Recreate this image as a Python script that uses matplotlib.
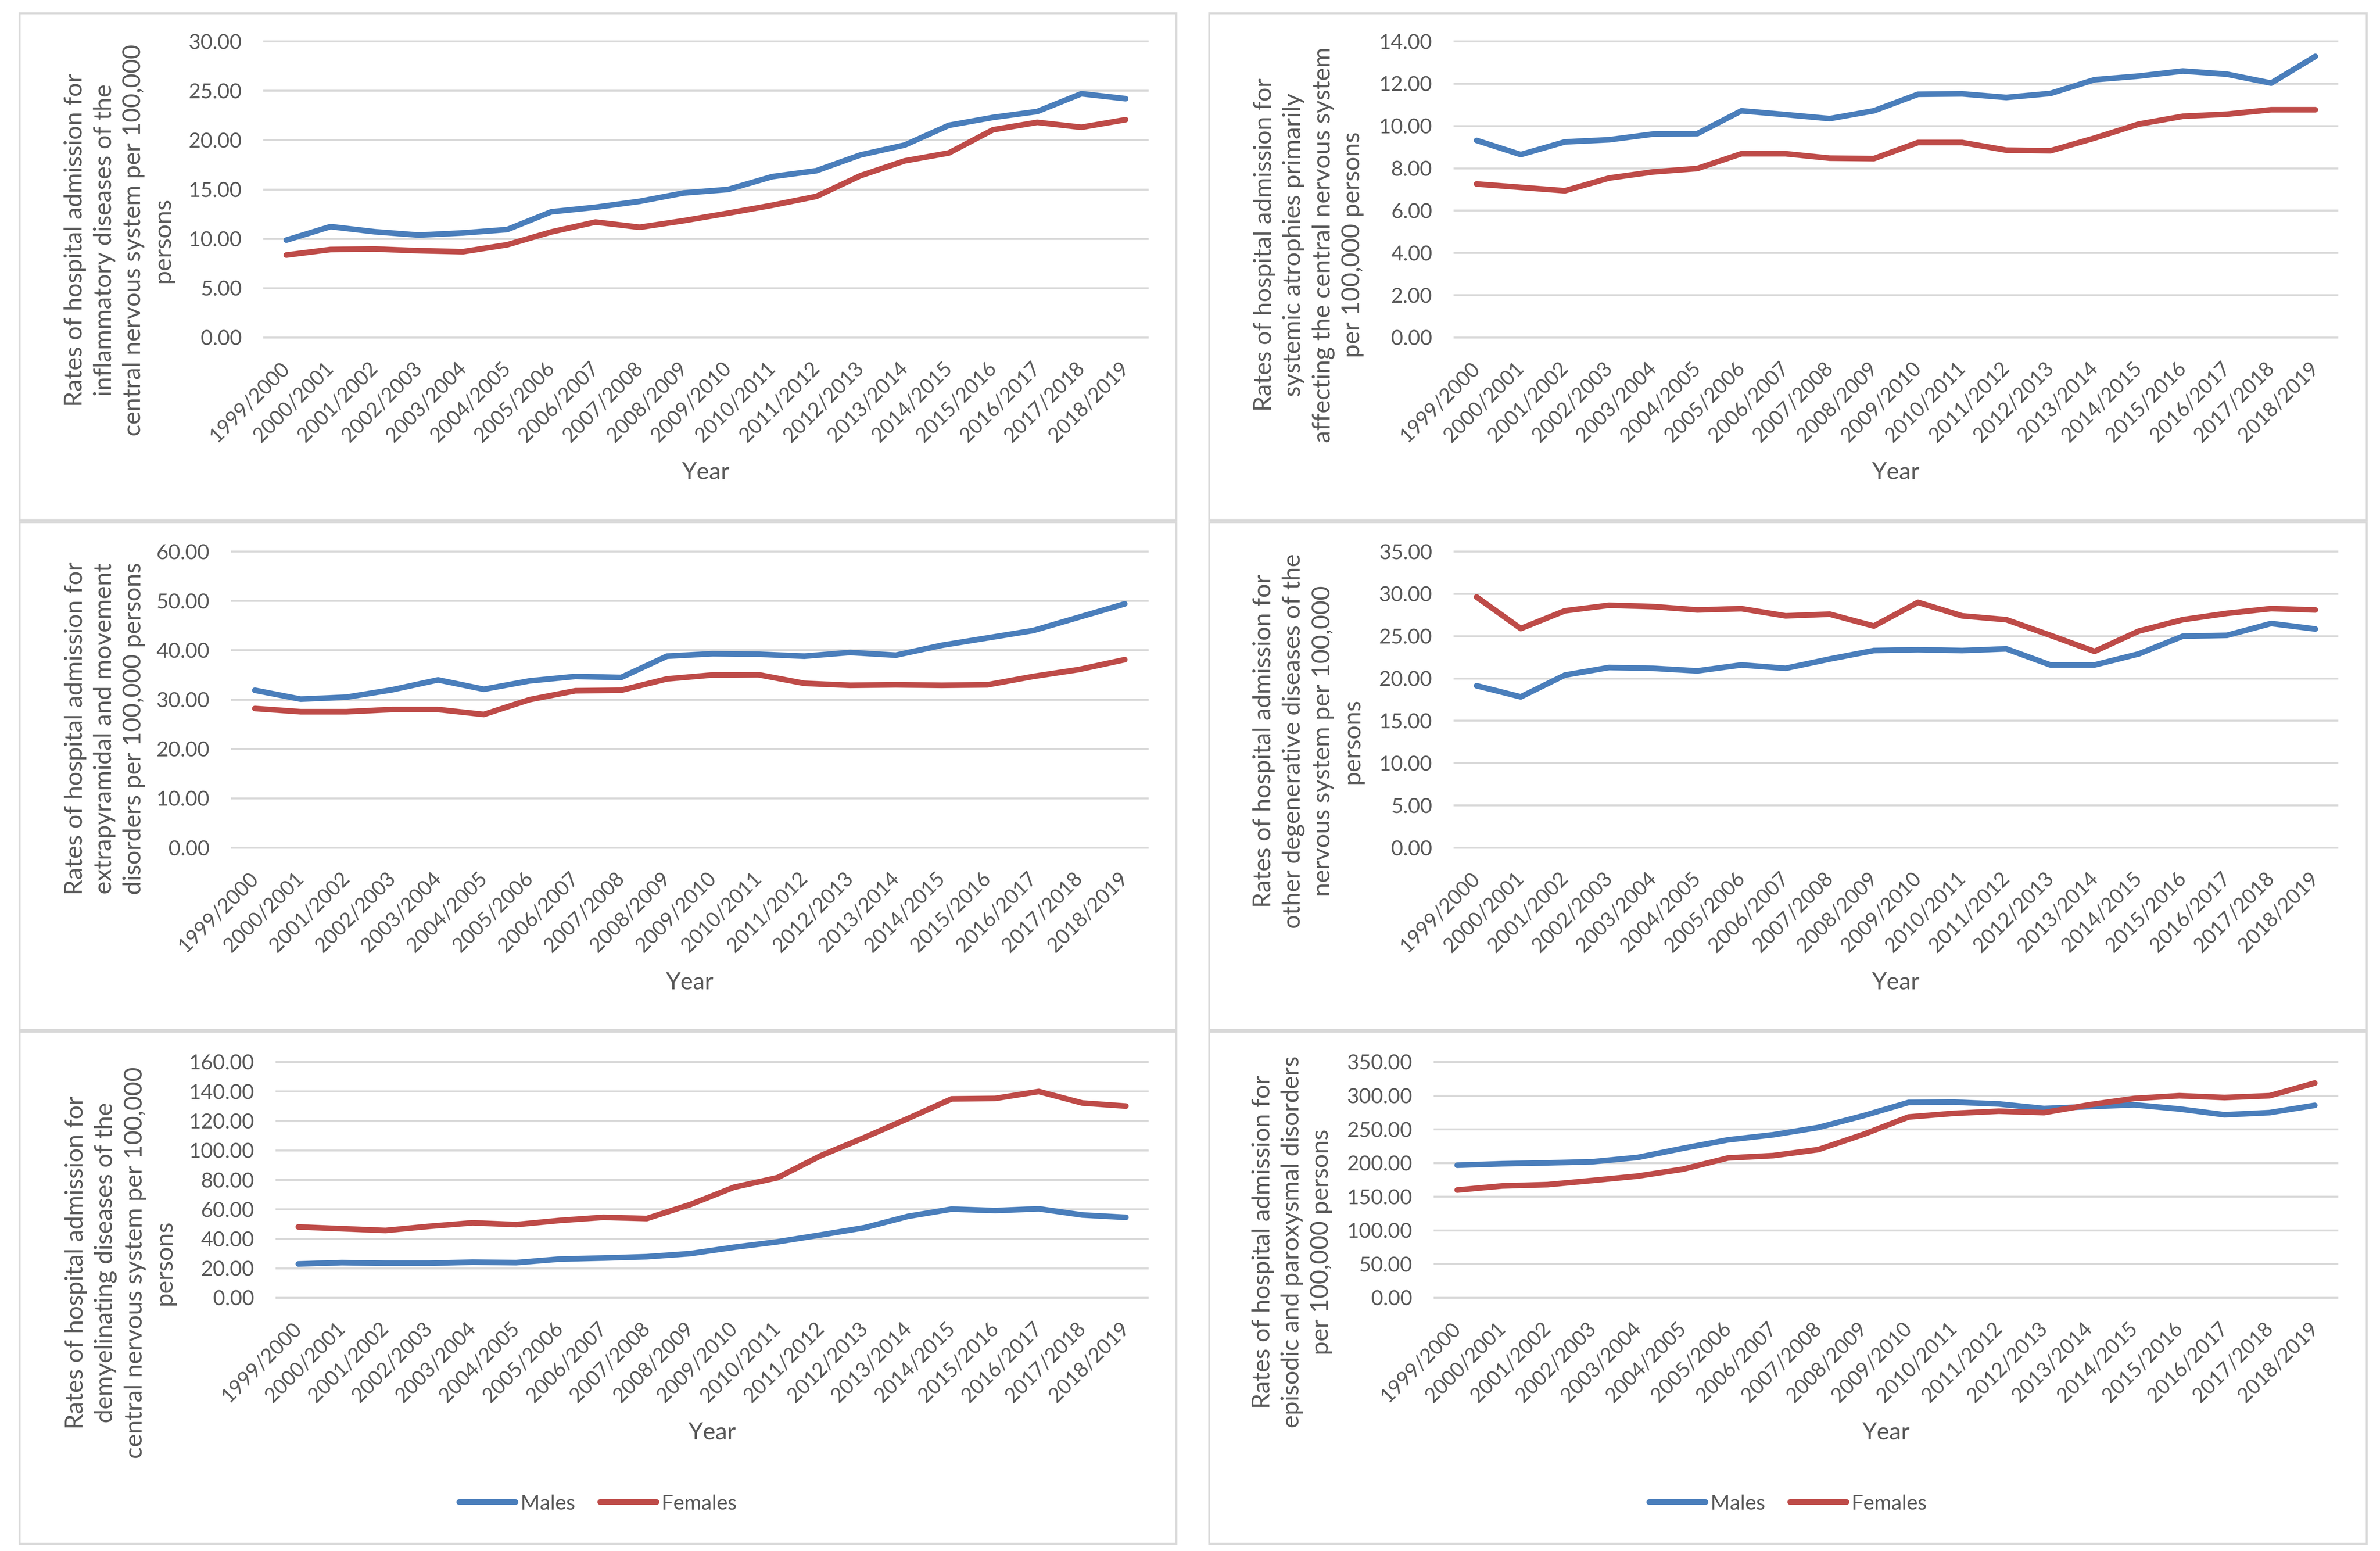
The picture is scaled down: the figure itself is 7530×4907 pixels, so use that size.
import matplotlib
matplotlib.use("Agg")
import matplotlib.pyplot as plt
from matplotlib.patches import Rectangle
from matplotlib.lines import Line2D

# ---- Data (rates per 100,000 persons)
YEARS = ["1999/2000", "2000/2001", "2001/2002", "2002/2003", "2003/2004",
         "2004/2005", "2005/2006", "2006/2007", "2007/2008", "2008/2009",
         "2009/2010", "2010/2011", "2011/2012", "2012/2013", "2013/2014",
         "2014/2015", "2015/2016", "2016/2017", "2017/2018", "2018/2019"]

INFLAM_M = [9.87, 11.24, 10.72, 10.38, 10.6, 10.94, 12.74, 13.2, 13.8, 14.65,
            15.0, 16.3, 16.9, 18.5, 19.5, 21.5, 22.3, 22.9, 24.7, 24.2]
INFLAM_F = [8.36, 8.92, 8.97, 8.8, 8.7, 9.4, 10.7, 11.7, 11.17, 11.84,
            12.6, 13.4, 14.3, 16.4, 17.9, 18.7, 21.05, 21.8, 21.3, 22.07]

ATROPHY_M = [9.32, 8.65, 9.25, 9.35, 9.62, 9.64, 10.72, 10.54, 10.35, 10.72,
             11.5, 11.52, 11.35, 11.54, 12.19, 12.36, 12.6, 12.45, 12.03, 13.29]
ATROPHY_F = [7.26, 7.1, 6.94, 7.54, 7.83, 7.99, 8.69, 8.69, 8.48, 8.46,
             9.22, 9.22, 8.86, 8.83, 9.43, 10.09, 10.46, 10.56, 10.77, 10.77]

EXTRAPYR_M = [31.9, 30.1, 30.5, 32.0, 34.0, 32.1, 33.8, 34.7, 34.5, 38.8,
              39.3, 39.2, 38.8, 39.55, 39.0, 41.0, 42.5, 44.0, 46.7, 49.4]
EXTRAPYR_F = [28.2, 27.55, 27.55, 28.0, 28.0, 27.0, 30.0, 31.8, 31.9, 34.2,
              35.0, 35.05, 33.3, 32.9, 33.0, 32.9, 33.0, 34.7, 36.1, 38.1]

DEGEN_M = [19.14, 17.83, 20.4, 21.3, 21.2, 20.9, 21.6, 21.2, 22.3, 23.3,
           23.4, 23.3, 23.5, 21.6, 21.6, 22.9, 25.0, 25.1, 26.5, 25.85]
DEGEN_F = [29.63, 25.9, 28.0, 28.65, 28.5, 28.1, 28.25, 27.4, 27.6, 26.2,
           29.0, 27.4, 26.95, 25.1, 23.2, 25.6, 26.95, 27.7, 28.26, 28.1]

DEMYEL_M = [23.0, 23.9, 23.5, 23.5, 24.2, 23.9, 26.3, 27.0, 27.9, 30.0,
            34.3, 38.0, 42.7, 47.6, 55.3, 60.2, 59.2, 60.4, 56.2, 54.6]
DEMYEL_F = [48.1, 46.9, 45.7, 48.5, 50.9, 49.7, 52.5, 54.6, 53.8, 63.3,
            75.0, 81.5, 96.5, 108.8, 121.7, 135.0, 135.3, 140.0, 132.2, 130.1]

EPISODIC_M = [196.8, 199.0, 200.3, 202.0, 208.4, 221.9, 234.5, 242.0, 252.8, 270.3,
              290.0, 290.5, 287.8, 281.0, 283.8, 286.5, 280.3, 271.7, 274.9, 285.7]
EPISODIC_F = [160.0, 166.1, 168.0, 174.2, 180.7, 190.9, 207.6, 211.1, 220.0, 242.6,
              268.4, 273.8, 277.0, 274.9, 286.5, 295.9, 300.0, 297.3, 300.0, 318.8]

YLABELS = [
    "Rates of hospital admission for\ninflammatory diseases of the\ncentral nervous system per 100,000\npersons",
    "Rates of hospital admission for\nsystemic atrophies primarily\naffecting the central nervous system\nper 100,000 persons",
    "Rates of hospital admission for\nextrapyramidal and movement\ndisorders per 100,000 persons",
    "Rates of hospital admission for\nother degenerative diseases of the\nnervous system per 100,000\npersons",
    "Rates of hospital admission for\ndemyelinating diseases of the\ncentral nervous system per 100,000\npersons",
    "Rates of hospital admission for\nepisodic and paroxysmal disorders\nper 100,000 persons",
]
YMAX = [30, 14, 60, 35, 160, 350]
YSTEP = [5, 2, 10, 5, 20, 50]
SERIES = [(INFLAM_M, INFLAM_F), (ATROPHY_M, ATROPHY_F), (EXTRAPYR_M, EXTRAPYR_F),
          (DEGEN_M, DEGEN_F), (DEMYEL_M, DEMYEL_F), (EPISODIC_M, EPISODIC_F)]

# ---- Styling / layout (pixel positions on a 7531 x 4907 canvas)
W, H = 7531, 4907
BLUE = "#4A7EBB"
RED = "#BE4B48"
TXT = "#595959"
GRID = "#D9D9D9"
FONT = "Lato"

plt.rcParams["font.family"] = [FONT, "DejaVu Sans"]

# plot area: left, right, top, bottom
AXES_PX = [(836, 3631, 131, 1068), (4602, 7395, 131, 1068),
           (734, 3631, 1745, 2682), (4602, 7395, 1745, 2682),
           (875, 3631, 3360, 4106), (4539, 7395, 3360, 4106)]
# centre of y-axis title block
YLAB_PX = [(376, 760), (4140, 775), (331, 2305), (4138, 2345), (380, 3995), (4088, 3930)]
BOXES_PX = [(62, 3722, 42, 1645), (3826, 7488, 42, 1645),
            (62, 3722, 1652, 3258), (3826, 7488, 1652, 3258),
            (62, 3722, 3264, 4884), (3826, 7488, 3264, 4884)]


def fx(px):
    return px / W


def fy(py):
    return 1 - py / H


fig = plt.figure(figsize=(W / 300, H / 300), dpi=300)
fig.patch.set_facecolor("white")

for i in range(6):
    # panel border
    bl, br, bt, bb = BOXES_PX[i]
    fig.add_artist(Rectangle((fx(bl), fy(bb)), fx(br - bl), (bb - bt) / H,
                             transform=fig.transFigure, fill=False,
                             edgecolor=GRID, linewidth=1.5))

    l, r, t, b = AXES_PX[i]
    ax = fig.add_axes([fx(l), fy(b), fx(r - l), (b - t) / H])
    males, females = SERIES[i]
    x = list(range(len(YEARS)))
    ax.plot(x, males, color=BLUE, lw=4.3, solid_capstyle="round",
            solid_joinstyle="round", clip_on=False, zorder=3)
    ax.plot(x, females, color=RED, lw=4.3, solid_capstyle="round",
            solid_joinstyle="round", clip_on=False, zorder=3)

    ax.set_xlim(-0.5, len(YEARS) - 0.5)
    ax.set_ylim(0, YMAX[i])
    ticks = [k * YSTEP[i] for k in range(int(YMAX[i] / YSTEP[i]) + 1)]
    ax.set_yticks(ticks)
    ax.set_yticklabels([f"{v:.2f}" for v in ticks])
    ax.set_xticks(x)
    ax.set_xticklabels(YEARS, rotation=45, ha="right", va="center",
                       rotation_mode="anchor")
    ax.tick_params(axis="y", length=0, pad=17, labelsize=15.8, labelcolor=TXT)
    ax.tick_params(axis="x", length=0, pad=21, labelsize=15.5, labelcolor=TXT)
    ax.yaxis.grid(True, color=GRID, lw=1.5)
    for gl in ax.get_ygridlines():
        gl.set_clip_on(False)
    ax.set_axisbelow(True)
    for s in ax.spines.values():
        s.set_visible(False)

    # axis titles
    lx, ly = YLAB_PX[i]
    fig.text(fx(lx), fy(ly), YLABELS[i], rotation=90, ha="center", va="center",
             multialignment="center", fontsize=18.8, color=TXT, linespacing=1.38)
    fig.text(fx((l + r) / 2), fy(b + 426), "Year", ha="center", va="center",
             fontsize=18, color=TXT)

# legends in the bottom row
handles = [Line2D([], [], color=BLUE, lw=4.3, solid_capstyle="round"),
           Line2D([], [], color=RED, lw=4.3, solid_capstyle="round")]
for cx in (1892, 5657):
    fig.legend(handles, ["Males", "Females"], loc="center",
               bbox_to_anchor=(fx(cx), fy(4757)), ncol=2, frameon=False,
               fontsize=15.8, labelcolor=TXT, handlelength=2.7,
               handletextpad=0.25, columnspacing=1.2)

fig.savefig("out.png", dpi=300, facecolor="white")
